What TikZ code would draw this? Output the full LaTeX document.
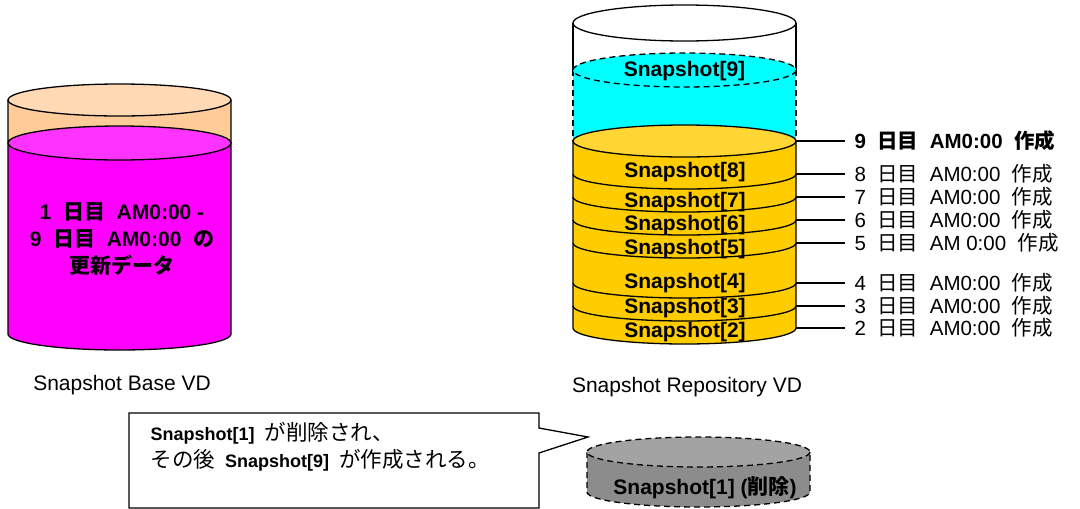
\documentclass[tikz,border=0pt]{standalone}
\usepackage{fontspec}
\setmainfont{Liberation Sans}
\newfontfamily\jp{Noto Sans CJK JP}
\newcommand\J[1]{{\jp #1}}
\newcommand\Jc[1]{{\jp\fontsize{21.5}{27}\selectfont #1}}
\definecolor{peachbody}{HTML}{FFCC99}
\definecolor{peachtop}{HTML}{FFDAB4}
\definecolor{magbody}{HTML}{FF00FF}
\definecolor{magtop}{HTML}{FF33FF}
\definecolor{cyanfill}{HTML}{00FFFF}
\definecolor{goldbody}{HTML}{FFCC00}
\definecolor{goldtop}{HTML}{FFD633}
\definecolor{graybody}{HTML}{8C8C8C}
\definecolor{graytop}{HTML}{A3A3A3}
\begin{document}
\begin{tikzpicture}[x=1pt,y=-1pt,line width=1.3pt,
  snaplbl/.style={font=\fontsize{21}{25}\selectfont\bfseries,inner sep=0pt},
  datelbl/.style={font=\fontsize{20.5}{25}\selectfont,anchor=west,inner xsep=9pt,inner ysep=0pt},
  vdlbl/.style={font=\fontsize{21}{25}\selectfont},
  dsh/.style={dash pattern=on 6pt off 4pt},
  ell/.style={x radius=111.5,y radius=#1}]
\useasboundingbox (0,0) rectangle (1080,509);

% ---------- left cylinder (Snapshot Base VD)
\fill[peachbody] (8,100) -- (8,143) -- (231,143) -- (231,100) -- cycle;
\fill[magbody] (8,143) -- (8,334) arc[start angle=180,end angle=0,ell=16] -- (231,143) -- cycle;
\draw (8,100) -- (8,334) arc[start angle=180,end angle=0,ell=16] -- (231,100);
\filldraw[fill=peachtop] (119.5,100) ellipse[ell=16];
\filldraw[fill=magtop] (119.5,143) ellipse[ell=17];
\node[font=\fontsize{21}{27}\selectfont\bfseries,align=center] (basetxt) at (122,239)
  {1~~\J{日目}~~AM0:00~-\\9~~\J{日目}~~AM0:00~~\J{の}\\\J{更新データ}};
\node[vdlbl] (basevd) at (122,385) {Snapshot Base VD};

% ---------- right cylinder (Snapshot Repository VD)
\fill[white] (573,23) -- (573,70) -- (796,70) -- (796,23) -- cycle;
\draw (573,70) -- (573,23);
\draw (796,70) -- (796,23);
\filldraw[fill=white] (684.5,23) ellipse[ell=18];
% cyan (Snapshot[9])
\fill[cyanfill] (573,70) -- (573,141) -- (796,141) -- (796,70) -- cycle;
\draw[dsh] (573,70) -- (573,141);
\draw[dsh] (796,70) -- (796,141);
\filldraw[fill=cyanfill,dsh] (684.5,70) ellipse[ell=17];
% gold stack
\fill[goldbody] (573,141) -- (573,328) arc[start angle=180,end angle=0,ell=16] -- (796,141) -- cycle;
\draw (573,141) -- (573,328) arc[start angle=180,end angle=0,ell=16] -- (796,141);
\filldraw[fill=goldtop] (684.5,141) ellipse[ell=16];
\foreach \e in {174,197,220,243,283,306}
  \draw (573,\e) arc[start angle=180,end angle=0,ell=15];

% snapshot labels
\node[snaplbl] (s9) at (684.5,71) {Snapshot[9]};
\node[snaplbl] (s8) at (685,172) {Snapshot[8]};
\node[snaplbl] (s7) at (685,202) {Snapshot[7]};
\node[snaplbl] (s6) at (685,225) {Snapshot[6]};
\node[snaplbl] (s5) at (685,249) {Snapshot[5]};
\node[snaplbl] (s4) at (685,283) {Snapshot[4]};
\node[snaplbl] (s3) at (685,308) {Snapshot[3]};
\node[snaplbl] (s2) at (685,332) {Snapshot[2]};

% edge points and date labels
\coordinate (e9) at (796,141);
\coordinate (e8) at (796,174);
\coordinate (e7) at (796,197);
\coordinate (e6) at (796,220);
\coordinate (e5) at (796,243);
\coordinate (e4) at (796,283);
\coordinate (e3) at (796,306);
\coordinate (e2) at (796,328);
\node[datelbl,font=\fontsize{20.5}{25}\selectfont\bfseries] (d9) at (845,141) {9~~\J{日目}~~AM0:00~~\J{作成}};
\node[datelbl] (d8) at (845,174) {8~~\J{日目}~~AM0:00~~\J{作成}};
\node[datelbl] (d7) at (845,197) {7~~\J{日目}~~AM0:00~~\J{作成}};
\node[datelbl] (d6) at (845,220) {6~~\J{日目}~~AM0:00~~\J{作成}};
\node[datelbl] (d5) at (845,243) {5~~\J{日目}~~AM 0:00~~\J{作成}};
\node[datelbl] (d4) at (845,283) {4~~\J{日目}~~AM0:00~~\J{作成}};
\node[datelbl] (d3) at (845,306) {3~~\J{日目}~~AM0:00~~\J{作成}};
\node[datelbl] (d2) at (845,328) {2~~\J{日目}~~AM0:00~~\J{作成}};
\foreach \i in {2,...,9} \draw (e\i) -- (d\i.west);

\node[vdlbl] (repovd) at (687,387) {Snapshot Repository VD};

% ---------- callout
\draw[fill=white] (129,413) -- (539,413) -- (539,428) -- (588,437) -- (539,453) -- (539,508) -- (129,508) -- cycle;
\node[font=\fontsize{18}{27}\selectfont,align=left,anchor=west,inner sep=0pt] (note) at (150,446.5)
  {\textbf{Snapshot[1]}~~\Jc{が削除され、}\\\Jc{その後}~~\textbf{Snapshot[9]}~~\Jc{が作成される。}};

% ---------- deleted cylinder
\fill[graybody] (587,452) -- (587,492) arc[start angle=180,end angle=0,ell=15] -- (810,452) -- cycle;
\draw[dsh] (587,452) -- (587,492) arc[start angle=180,end angle=0,ell=15] -- (810,452);
\filldraw[fill=graytop,dsh] (698.5,452) ellipse[ell=15];
\node[snaplbl] (del) at (705,488) {Snapshot[1] (\J{削除})};
\end{tikzpicture}
\end{document}
